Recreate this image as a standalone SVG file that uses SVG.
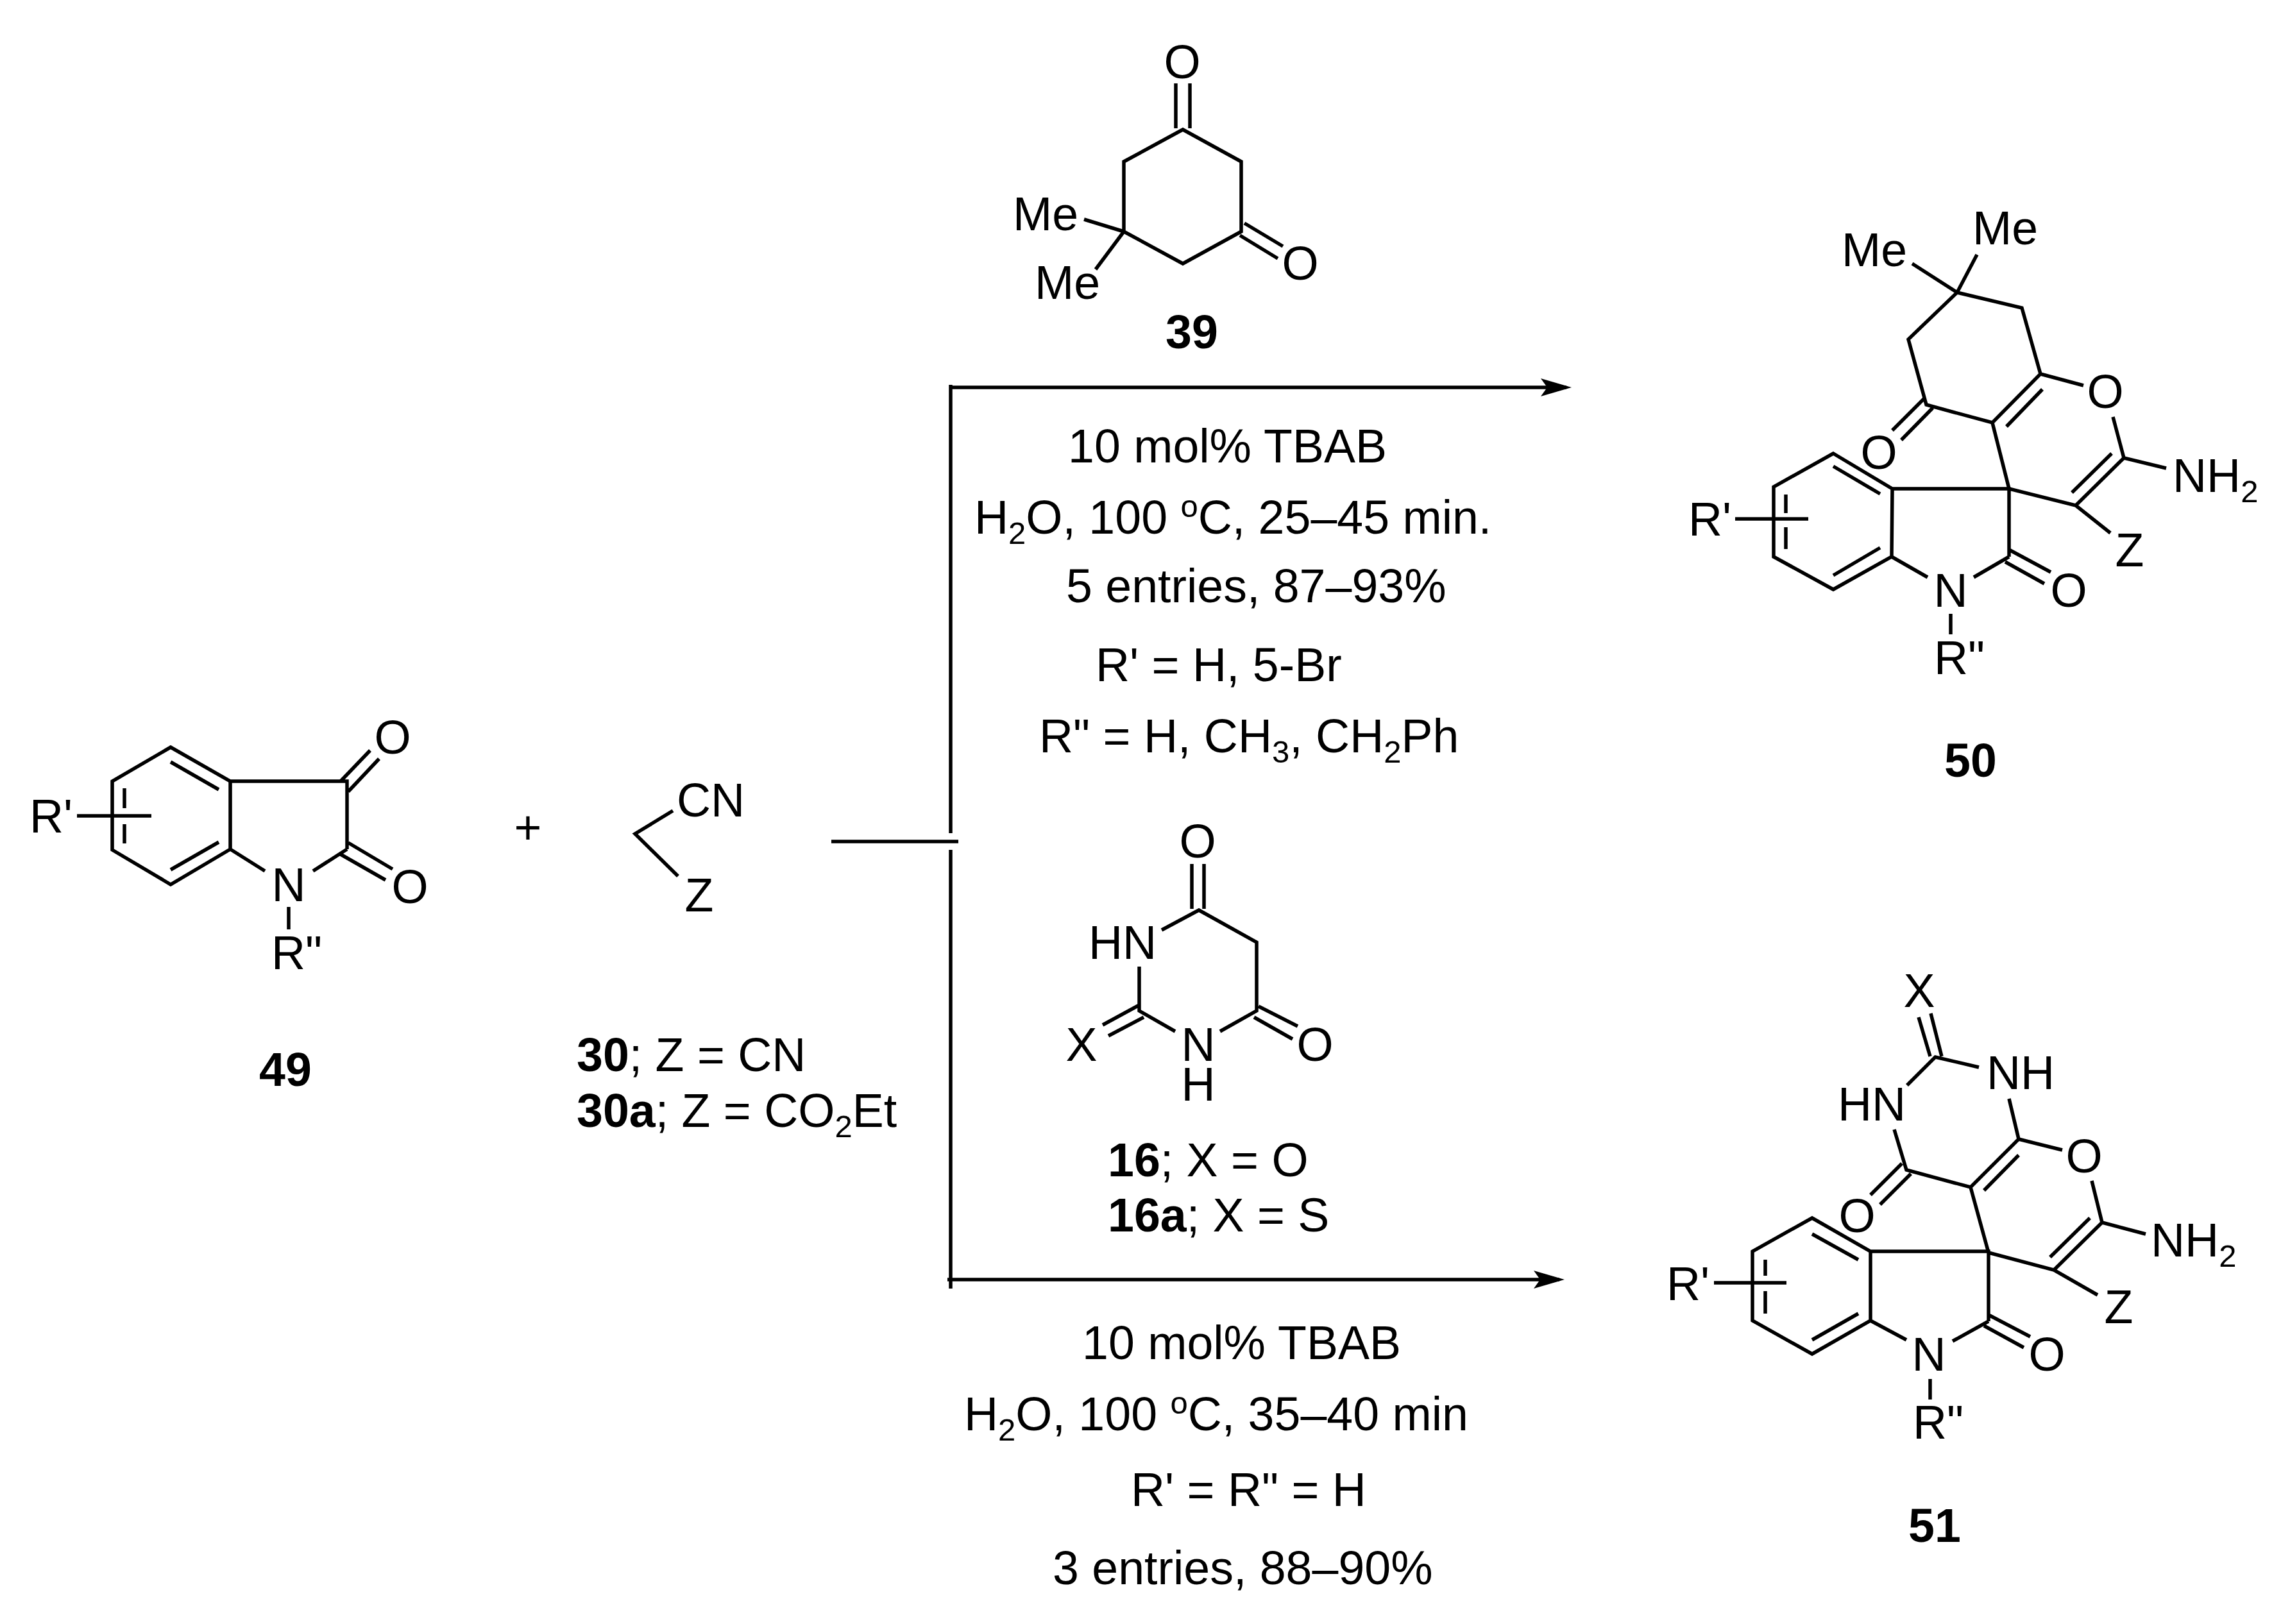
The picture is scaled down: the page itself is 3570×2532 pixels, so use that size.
<svg xmlns="http://www.w3.org/2000/svg" width="3570" height="2532" viewBox="0 0 3570 2532">
<style>
text{font-family:"Liberation Sans",Arial,sans-serif;font-size:73.5px;fill:#000}
.m{text-anchor:middle}
.b{font-weight:bold}
.bond{fill:none;stroke:#000;stroke-width:5.5;stroke-linecap:butt;stroke-linejoin:miter}
.link{fill:none;stroke:#000;stroke-width:5.5}
tspan.s{font-size:49px}
</style>
<defs>
<marker id="arrow" markerUnits="userSpaceOnUse" markerWidth="60" markerHeight="32" refX="40" refY="14" orient="auto" overflow="visible"><path d="M48 14L0 0L10 14L0 28Z" fill="#000"/></marker>
</defs>
<rect width="3570" height="2532" fill="#fff"/>
<g id="connectors">
<path class="link" d="M1296 1312H1494"/>
<path class="link" d="M1482 1299V600"/>
<path class="link" d="M1482 1325V2009"/>
<path class="link" d="M1480 604H2442" marker-end="url(#arrow)"/>
<path class="link" d="M1477 1995H2431" marker-end="url(#arrow)"/>
</g>
<g id="compound-49">
<path class="bond" d="M266 1165L359 1218V1324L266 1379L175 1325V1218ZM359 1218H541V1324M359 1324L413 1358M488 1358L541 1324M531 1218L577 1170M543 1234L591 1183M531 1332L601 1372M543 1314L612 1355M266 1188L341 1231M266 1356L341 1313M194 1229V1260M194 1285V1315M120 1272H236M450 1414V1449"/>
<text x="612" y="1175" class="m">O</text>
<text x="639" y="1408" class="m">O</text>
<text x="450" y="1405" class="m">N</text>
<text x="46" y="1298">R'</text>
<text x="423" y="1511">R"</text>
<text x="445" y="1693" class="m b">49</text>
</g>
<text id="plus" x="823" y="1316" class="m">+</text>
<g id="compound-30">
<path class="bond" d="M1049 1264L990 1300L1057 1366"/>
<text x="1055" y="1273">CN</text>
<text x="1090" y="1421" class="m">Z</text>
<text x="899" y="1670"><tspan class="b">30</tspan>; Z = CN</text>
<text x="899" y="1757"><tspan class="b">30a</tspan>; Z = CO<tspan class="s" dy="16">2</tspan><tspan dy="-16">Et</tspan></text>
</g>
<g id="compound-39">
<path class="bond" d="M1844 202L1935 252V361L1844 411L1752 361V252ZM1833 130V200M1855 130V200M1940 348L2000 384M1933 367L1992 403M1752 361L1690 342M1752 361L1708 420"/>
<text x="1843" y="122" class="m">O</text>
<text x="2027" y="436" class="m">O</text>
<text x="1579" y="359">Me</text>
<text x="1613" y="466">Me</text>
<text x="1858" y="543" class="m b">39</text>
</g>
<g id="conditions-top">
<text x="1665" y="721">10 mol% TBAB</text>
<text x="1519" y="832">H<tspan class="s" dy="16">2</tspan><tspan dy="-16">O, 100 </tspan><tspan class="s" dy="-26">o</tspan><tspan dy="26">C, 25–45 min.</tspan></text>
<text x="1662" y="939">5 entries, 87–93%</text>
<text x="1708" y="1062">R' = H, 5-Br</text>
<text x="1620" y="1173">R" = H, CH<tspan class="s" dy="16">3</tspan><tspan dy="-16">, CH</tspan><tspan class="s" dy="16">2</tspan><tspan dy="-16">Ph</tspan></text>
</g>
<g id="compound-50">
<path class="bond" d="M3051 456L3152 480L3181 583L3106 659L3003 631L2975 529ZM3051 456L2981 411M3051 456L3082 397M3128 665L3184 607M3181 583L3248 601M3294 650L3311 714L3377 730M3311 714L3236 788M3292 707L3230 768M3106 659L3132 762L3236 788L3290 831M2858 707L2950 762L2949 868L2858 919L2765 868V759ZM2950 762H3132V868M2858 727L2931 770M2858 897L2931 854M2784 771V800M2784 822V856M2705 809H2819M2949 868L3005 900M3132 868L3077 900M3132 857L3197 892M3126 876L3187 910M3041 957V989M3000 621L2950 671M3013 636L2964 686"/>
<text x="2871" y="415">Me</text>
<text x="3075" y="381">Me</text>
<text x="3282" y="636" class="m">O</text>
<text x="3387" y="767">NH<tspan class="s" dy="16">2</tspan></text>
<text x="3320" y="883" class="m">Z</text>
<text x="2632" y="835">R'</text>
<text x="3041" y="946" class="m">N</text>
<text x="3225" y="946" class="m">O</text>
<text x="2929" y="731" class="m">O</text>
<text x="3015" y="1051">R"</text>
<text x="3072" y="1211" class="m b">50</text>
</g>
<g id="compound-16">
<path class="bond" d="M1811 1450L1869 1419L1959 1469V1576L1902 1608M1776 1507V1576L1832 1608M1858 1347V1417M1877 1347V1417M1962 1569L2023 1600M1955 1586L2015 1620M1776 1567L1719 1598M1783 1586L1728 1615"/>
<text x="1867" y="1337" class="m">O</text>
<text x="1697" y="1495">HN</text>
<text x="1868" y="1654" class="m">N</text>
<text x="1868" y="1716" class="m">H</text>
<text x="2050" y="1654" class="m">O</text>
<text x="1686" y="1654" class="m">X</text>
<text x="1727" y="1834"><tspan class="b">16</tspan>; X = O</text>
<text x="1727" y="1920"><tspan class="b">16a</tspan>; X = S</text>
</g>
<g id="conditions-bottom">
<text x="1687" y="2119">10 mol% TBAB</text>
<text x="1503" y="2230">H<tspan class="s" dy="16">2</tspan><tspan dy="-16">O, 100 </tspan><tspan class="s" dy="-26">o</tspan><tspan dy="26">C, 35–40 min</tspan></text>
<text x="1763" y="2348">R' = R" = H</text>
<text x="1641" y="2470">3 entries, 88–90%</text>
</g>
<g id="compound-51">
<path class="bond" d="M2991 1586L3009 1647M3010 1580L3027 1647M3085 1664L3017 1648L2973 1692M3132 1713L3147 1776L3072 1851L2972 1824L2953 1761M3147 1801L3093 1856M3147 1776L3215 1793M3261 1841L3277 1906L3345 1924M3277 1906L3202 1980M3258 1899L3196 1960M3072 1851L3100 1953L3202 1980L3270 2019M2825 1899L2916 1951V2059L2825 2111L2732 2059V1951ZM2916 1951H3100V2060M2825 1924L2897 1964M2825 2089L2897 2048M2752 1964V1989M2752 2013V2048M2672 2000H2785M2916 2059L2972 2089M3100 2060L3044 2091M3100 2050L3165 2084M3093 2067L3155 2101M3009 2150V2182M2965 1814L2916 1863M2979 1830L2931 1878"/>
<text x="2992" y="1570" class="m">X</text>
<text x="3097" y="1698">NH</text>
<text x="2865" y="1747">HN</text>
<text x="3249" y="1828" class="m">O</text>
<text x="3353" y="1959">NH<tspan class="s" dy="16">2</tspan></text>
<text x="3303" y="2063" class="m">Z</text>
<text x="2598" y="2027">R'</text>
<text x="3007" y="2137" class="m">N</text>
<text x="3191" y="2137" class="m">O</text>
<text x="2895" y="1921" class="m">O</text>
<text x="2982" y="2243">R"</text>
<text x="3016" y="2404" class="m b">51</text>
</g>
</svg>
